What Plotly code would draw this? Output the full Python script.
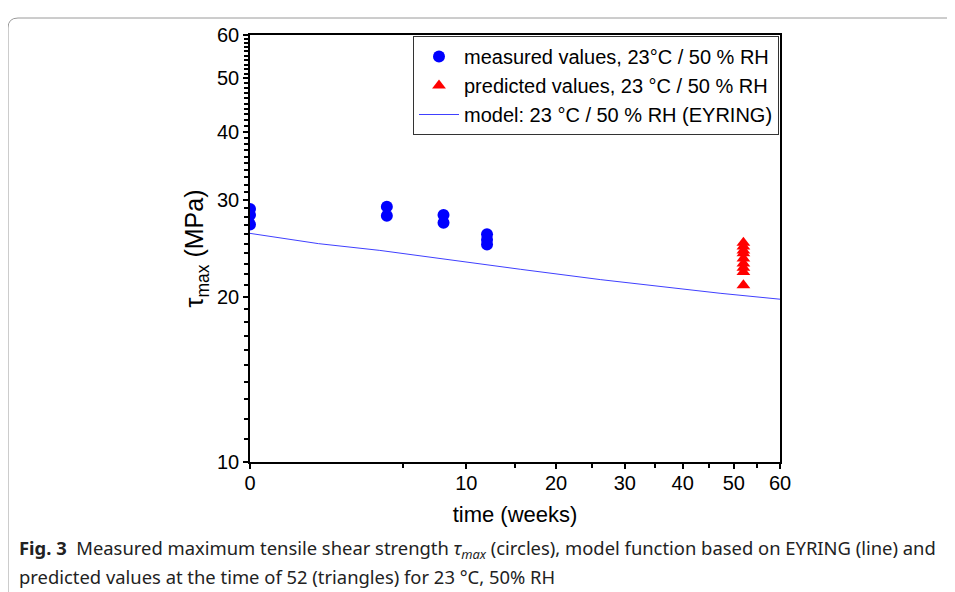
import numpy as np
import plotly.graph_objects as go

# ---- data ----
meas_weeks = [0, 0, 0, 4, 4, 8, 8, 12, 12, 12]
meas_tau = [28.9, 28.2, 27.1, 29.2, 28.1, 28.2, 27.3, 26.0, 25.4, 24.9]

pred_weeks = [52, 52, 52, 52, 52, 52, 52, 52, 52]
pred_tau = [25.1, 24.7, 24.3, 24.0, 23.5, 23.0, 22.6, 22.2, 21.0]

model_weeks = [0, 1, 3.6, 9.4, 15.6, 26.2, 32.5, 47.2, 60]
model_tau = [26.1, 25.0, 24.3, 23.2, 22.45, 21.5, 21.1, 20.3, 19.8]

x_major = [0, 10, 20, 30, 40, 50, 60]
x_minor = [5, 15, 25, 35, 45, 55]
y_major = [10, 20, 30, 40, 50, 60]
y_minor = [v for v in range(11, 60) if v not in y_major]

FONT = "Liberation Sans, Arial, sans-serif"

# x axis in the reference is a square-root time scale
sq = np.sqrt

fig = go.Figure()
fig.add_trace(go.Scatter(
    x=sq(meas_weeks), y=meas_tau, mode="markers",
    name="measured values, 23°C / 50 % RH",
    marker=dict(symbol="circle", size=12, color="#0000ff"),
))
fig.add_trace(go.Scatter(
    x=sq(pred_weeks), y=pred_tau, mode="markers",
    name="predicted values, 23 °C / 50 % RH",
    marker=dict(symbol="triangle-up", size=12, color="#ff0000"),
))
fig.add_trace(go.Scatter(
    x=sq(model_weeks), y=model_tau, mode="lines",
    name="model: 23 °C / 50 % RH (EYRING)",
    line=dict(color="#4040ff", width=1),
))

# page body has an 8px margin: figure occupies (8,8)-(955,592) of the window
OFF = 8
W, H = 955 - OFF, 592 - OFF
L, T = 250 - OFF, 35 - OFF
PW, PH = 530, 427
R = W - L - PW
B = H - T - PH


def px2paper_x(px):
    return (px - OFF - L) / PW


def px2paper_y(py):
    return (T + PH - (py - OFF)) / PH


fig.update_layout(
    width=W, height=H,
    margin=dict(l=L, r=R, t=T, b=B),
    paper_bgcolor="white", plot_bgcolor="white",
    font=dict(family=FONT, size=20, color="black"),
    showlegend=True,
    legend=dict(
        x=px2paper_x(413), y=px2paper_y(36), xanchor="left", yanchor="top",
        bordercolor="#333333", borderwidth=1, bgcolor="white",
        font=dict(family=FONT, size=20, color="black"),
        tracegroupgap=0, itemwidth=40,
    ),
    xaxis=dict(
        range=[0, float(sq(60))],
        tickmode="array", tickvals=sq(x_major), ticktext=[str(v) for v in x_major],
        ticks="outside", ticklen=5, tickwidth=1.5, tickcolor="black",
        ticklabelstandoff=-3,
        minor=dict(tickmode="array", tickvals=sq(x_minor), ticks="outside",
                   ticklen=4, tickwidth=1.5, tickcolor="black"),
        showline=True, linecolor="black", linewidth=1.5, mirror=True,
        showgrid=False, zeroline=False,
        title=dict(text="time (weeks)", font=dict(size=22), standoff=14),
        tickfont=dict(size=20),
    ),
    yaxis=dict(
        type="log", range=[1, float(np.log10(60))],
        tickmode="array", tickvals=y_major, ticktext=[str(v) for v in y_major],
        ticks="outside", ticklen=5, tickwidth=1.5, tickcolor="black",
        ticklabelstandoff=0,
        minor=dict(tickmode="array", tickvals=y_minor, ticks="outside",
                   ticklen=4, tickwidth=1.5, tickcolor="black"),
        showline=True, linecolor="black", linewidth=1.5, mirror=True,
        showgrid=False, zeroline=False,
        title=dict(text="τ<sub>max</sub> (MPa)", font=dict(size=25), standoff=6),
        tickfont=dict(size=20),
    ),
)

# page frame (rounded corner at top-left)
x0, y0 = px2paper_x(8), px2paper_y(18)
x1 = px2paper_x(960)
yb = px2paper_y(600)
rx = 10 / PW
ry = 10 / PH
path = (f"M {x0} {yb} L {x0} {y0 - ry} Q {x0} {y0} {x0 + rx} {y0} L {x1} {y0}")
fig.add_shape(type="path", path=path, xref="paper", yref="paper",
              line=dict(color="#9a9a9a", width=1))

CAP_FONT = dict(family="Noto Sans, sans-serif", size=18.4, color="#222222")
fig.add_annotation(
    xref="paper", yref="paper", x=px2paper_x(17), y=px2paper_y(549),
    xanchor="left", yanchor="middle", showarrow=False, align="left",
    text="<b>Fig. 3</b>  Measured maximum tensile shear strength <i>τ<sub>max</sub></i> (circles), "
         "model function based on EYRING (line) and",
    font=CAP_FONT,
)
fig.add_annotation(
    xref="paper", yref="paper", x=px2paper_x(17), y=px2paper_y(576),
    xanchor="left", yanchor="middle", showarrow=False, align="left",
    text="predicted values at the time of 52 (triangles) for 23 °C, 50% RH",
    font=CAP_FONT,
)

fig.write_html("out.html")
